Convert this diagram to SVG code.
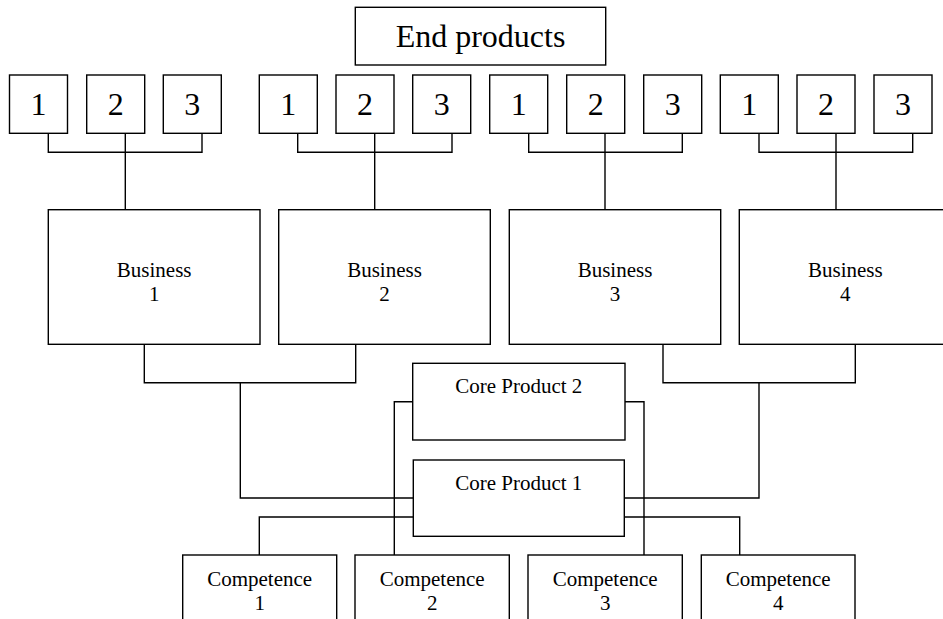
<svg xmlns="http://www.w3.org/2000/svg" width="943" height="619" viewBox="0 0 943 619" font-family="'Liberation Serif', 'Times New Roman', Times, 'DejaVu Serif', serif">
  <style>
    .box { fill: #ffffff; stroke: #000000; stroke-width: 1.4; }
    .wire { fill: none; stroke: #000000; stroke-width: 1.4; }
    text { font-family: 'Liberation Serif', 'Times New Roman', Times, 'DejaVu Serif', serif; fill: #000000; text-anchor: middle; }
    .big { font-size: 32px; }
    .mid { font-size: 21px; }
  </style>

  <rect width="943" height="619" fill="#ffffff"/>

  <!-- connectors -->
  <g id="connectors" class="wire">
    <!-- end products to businesses -->
    <path d="M48.3,133.3 V152.3 H202 V133.3 M125.3,133.3 V209.7"/>
    <path d="M297.7,133.3 V152.3 H452 V133.3 M374.7,133.3 V209.7"/>
    <path d="M528.7,133.3 V152.3 H682.3 V133.3 M605,133.3 V209.7"/>
    <path d="M759,133.3 V152.3 H912.7 V133.3 M836,133.3 V209.7"/>
    <!-- businesses to core product 1 -->
    <path d="M144.3,344.3 V382.7 H355.7 V344.3 M240.3,382.7 V498 H413.3"/>
    <path d="M663,344.3 V382.7 H855.3 V344.3 M759,382.7 V498 H624.3"/>
    <!-- core product 2 to competences 2 and 3 -->
    <path d="M412.7,401.7 H394.3 V555 M625,401.7 H644 V555"/>
    <!-- core product 1 to competences 1 and 4 -->
    <path d="M413.3,517 H259.3 V555 M624.3,517 H739.7 V555"/>
  </g>

  <!-- end products header -->
  <g id="end-products">
    <rect class="box" x="355.3" y="7.3" width="250.4" height="57.7"/>
    <text class="big" x="480.5" y="47">End products</text>
  </g>

  <!-- end product boxes, four groups of three -->
  <g id="ep-1-1"><rect class="box" x="9.5" y="75" width="58" height="58.3"/><text class="big" x="38.5" y="115">1</text></g>
  <g id="ep-1-2"><rect class="box" x="86.7" y="75" width="58" height="58.3"/><text class="big" x="115.7" y="115">2</text></g>
  <g id="ep-1-3"><rect class="box" x="163.3" y="75" width="58" height="58.3"/><text class="big" x="192.3" y="115">3</text></g>

  <g id="ep-2-1"><rect class="box" x="259.3" y="75" width="58" height="58.3"/><text class="big" x="288.3" y="115">1</text></g>
  <g id="ep-2-2"><rect class="box" x="336" y="75" width="58" height="58.3"/><text class="big" x="365" y="115">2</text></g>
  <g id="ep-2-3"><rect class="box" x="412.7" y="75" width="58" height="58.3"/><text class="big" x="441.7" y="115">3</text></g>

  <g id="ep-3-1"><rect class="box" x="489.7" y="75" width="58" height="58.3"/><text class="big" x="518.7" y="115">1</text></g>
  <g id="ep-3-2"><rect class="box" x="566.7" y="75" width="58" height="58.3"/><text class="big" x="595.7" y="115">2</text></g>
  <g id="ep-3-3"><rect class="box" x="643.7" y="75" width="58" height="58.3"/><text class="big" x="672.7" y="115">3</text></g>

  <g id="ep-4-1"><rect class="box" x="720.3" y="75" width="58" height="58.3"/><text class="big" x="749.3" y="115">1</text></g>
  <g id="ep-4-2"><rect class="box" x="797" y="75" width="58" height="58.3"/><text class="big" x="826" y="115">2</text></g>
  <g id="ep-4-3"><rect class="box" x="874" y="75" width="58" height="58.3"/><text class="big" x="903" y="115">3</text></g>

  <!-- businesses -->
  <g id="business-1">
    <rect class="box" x="48.3" y="209.7" width="211.7" height="134.6"/>
    <text class="mid" x="154.2" y="277.3">Business</text>
    <text class="mid" x="154.2" y="300.8">1</text>
  </g>
  <g id="business-2">
    <rect class="box" x="278.7" y="209.7" width="211.6" height="134.6"/>
    <text class="mid" x="384.5" y="277.3">Business</text>
    <text class="mid" x="384.5" y="300.8">2</text>
  </g>
  <g id="business-3">
    <rect class="box" x="509.3" y="209.7" width="211.4" height="134.6"/>
    <text class="mid" x="615" y="277.3">Business</text>
    <text class="mid" x="615" y="300.8">3</text>
  </g>
  <g id="business-4">
    <rect class="box" x="739.3" y="209.7" width="212" height="134.6"/>
    <text class="mid" x="845.3" y="277.3">Business</text>
    <text class="mid" x="845.3" y="300.8">4</text>
  </g>

  <!-- core products -->
  <g id="core-product-2">
    <rect class="box" x="412.7" y="363.3" width="212.3" height="76.7"/>
    <text class="mid" x="518.8" y="393.3">Core Product 2</text>
  </g>
  <g id="core-product-1">
    <rect class="box" x="413.3" y="460" width="211" height="76.3"/>
    <text class="mid" x="518.8" y="489.5">Core Product 1</text>
  </g>

  <!-- competences -->
  <g id="competence-1">
    <rect class="box" x="182.7" y="555" width="154" height="80"/>
    <text class="mid" x="259.7" y="586">Competence</text>
    <text class="mid" x="259.7" y="610">1</text>
  </g>
  <g id="competence-2">
    <rect class="box" x="355" y="555" width="154.3" height="80"/>
    <text class="mid" x="432.2" y="586">Competence</text>
    <text class="mid" x="432.2" y="610">2</text>
  </g>
  <g id="competence-3">
    <rect class="box" x="528" y="555" width="154.3" height="80"/>
    <text class="mid" x="605.2" y="586">Competence</text>
    <text class="mid" x="605.2" y="610">3</text>
  </g>
  <g id="competence-4">
    <rect class="box" x="701.3" y="555" width="153.7" height="80"/>
    <text class="mid" x="778.2" y="586">Competence</text>
    <text class="mid" x="778.2" y="610">4</text>
  </g>
</svg>
